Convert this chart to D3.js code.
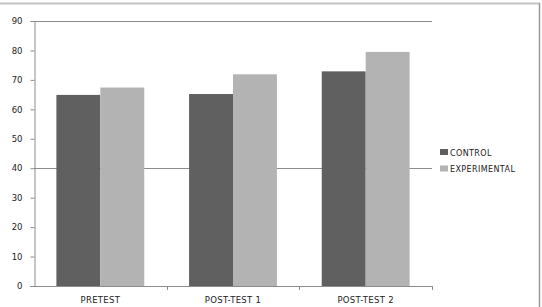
<!DOCTYPE html>
<html>
<head>
<meta charset="utf-8">
<script src="https://cdn.jsdelivr.net/npm/d3@7"></script>
<style>
  body { margin: 0; background: #fff; }
  svg { display: block; }
  text { font-family: "DejaVu Sans", sans-serif; fill: #222; }
</style>
</head>
<body>
<svg width="542" height="307"></svg>
<script>
// data
var categories = ["PRETEST", "POST-TEST 1", "POST-TEST 2"];
var seriesNames = ["CONTROL", "EXPERIMENTAL"];
var control = [64.9, 65.2, 72.9];
var experimental = [67.4, 71.9, 79.5];
var yTicks = [0, 10, 20, 30, 40, 50, 60, 70, 80, 90];
var gridValues = [40, 90];

var colors = ["#606060", "#b3b3b3"];

var svg = d3.select("svg"),
  width = 542,
  height = 307;

// plot area edges
var plotLeft = 34, plotRight = 432, plotTop = 21, plotBottom = 286;

// outer frame (partly cropped)
svg.append("line").attr("x1", 0).attr("x2", 540).attr("y1", 3.5).attr("y2", 3.5)
  .attr("stroke", "#c4c4c4").attr("stroke-width", 2);
svg.append("line").attr("x1", 539.5).attr("x2", 539.5).attr("y1", 3).attr("y2", height)
  .attr("stroke", "#9a9a9a").attr("stroke-width", 1.5);

var x = d3.scaleBand().domain(categories).range([plotLeft, plotRight]).paddingInner(0).paddingOuter(0);
var xInner = d3.scaleBand().domain(seriesNames).range([0, x.bandwidth()]).paddingInner(0).paddingOuter(0.51);
var y = d3.scaleLinear().domain([0, 90]).range([plotBottom, plotTop]);

// gridlines
svg.append("g").selectAll("line").data(gridValues).enter().append("line")
  .attr("x1", plotLeft).attr("x2", plotRight)
  .attr("y1", d => Math.round(y(d)) + 0.5).attr("y2", d => Math.round(y(d)) + 0.5)
  .attr("stroke", "#8c8c8c").attr("stroke-width", 1);

// bars
var rows = categories.map((c, i) => ({ cat: c, values: [control[i], experimental[i]] }));
var groups = svg.append("g").selectAll("g").data(rows).enter().append("g")
  .attr("transform", d => "translate(" + x(d.cat) + ",0)");
groups.selectAll("rect").data(d => d.values.map((v, j) => ({ key: seriesNames[j], v: v, j: j })))
  .enter().append("rect")
  .attr("x", d => xInner(d.key))
  .attr("width", xInner.bandwidth())
  .attr("y", d => y(d.v))
  .attr("height", d => y(0) - y(d.v))
  .attr("fill", d => colors[d.j]);

// y axis
var yAxis = svg.append("g").attr("transform", "translate(" + (plotLeft + 0.5) + ",0)")
  .call(d3.axisLeft(y).tickValues(yTicks).tickSize(4).tickPadding(8));
yAxis.select(".domain").attr("stroke", "#8c8c8c");
yAxis.selectAll(".tick line").attr("stroke", "#8c8c8c");
yAxis.selectAll("text").attr("font-size", 8.5).attr("font-family", "DejaVu Sans").attr("fill", "#222");

// x axis
var xAxis = svg.append("g").attr("transform", "translate(0," + (plotBottom + 0.5) + ")")
  .call(d3.axisBottom(x).tickSize(0).tickPadding(10));
xAxis.select(".domain").attr("stroke", "#8c8c8c").attr("d", "M" + (plotLeft - 4) + ",0H" + plotRight);
xAxis.selectAll("text").attr("font-size", 8.5).attr("font-family", "DejaVu Sans").attr("fill", "#222")
  .attr("letter-spacing", 0.3);
// category boundary ticks
svg.append("g").selectAll("line").data(categories.slice(1).map(c => x(c)).concat([plotRight]))
  .enter().append("line")
  .attr("x1", d => Math.round(d) + 0.5).attr("x2", d => Math.round(d) + 0.5)
  .attr("y1", plotBottom).attr("y2", plotBottom + 4)
  .attr("stroke", "#8c8c8c");

// legend
var legend = svg.append("g").selectAll("g").data(seriesNames).enter().append("g")
  .attr("transform", (d, i) => "translate(440," + (149 + i * 16.5) + ")");
legend.append("rect").attr("width", 8).attr("height", 6).attr("y", 0)
  .attr("fill", (d, i) => colors[i]);
legend.append("text").attr("x", 10).attr("y", 6.5).attr("font-size", 8)
  .attr("letter-spacing", 0.4).text(d => d);
</script>
</body>
</html>
